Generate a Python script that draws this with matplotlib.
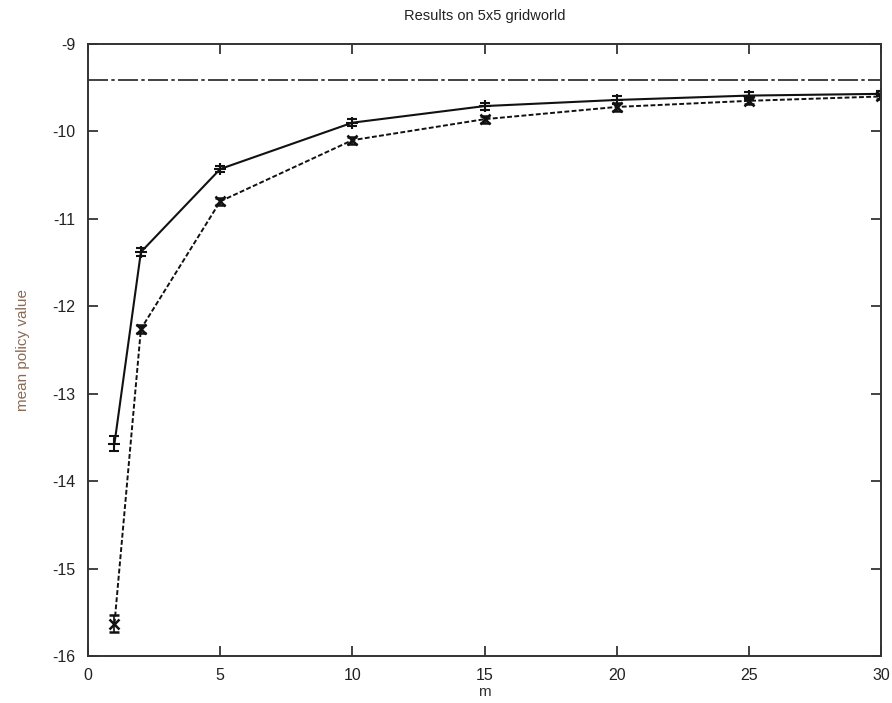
import matplotlib
matplotlib.use("Agg")
import matplotlib.pyplot as plt

m = [1, 2, 5, 10, 15, 20, 25, 30]
solid_vals = [-13.57, -11.38, -10.43, -9.90, -9.71, -9.64, -9.59, -9.57]
solid_err = [0.09, 0.05, 0.03, 0.04, 0.04, 0.05, 0.04, 0.03]
dashed_vals = [-15.63, -12.26, -10.80, -10.10, -9.86, -9.72, -9.65, -9.60]
dashed_err = [0.10, 0.05, 0.04, 0.04, 0.04, 0.05, 0.04, 0.03]
baseline = -9.41

x_ticks = [0, 5, 10, 15, 20, 25, 30]
y_ticks = [-16, -15, -14, -13, -12, -11, -10, -9]

plt.rcParams['font.family'] = ['Liberation Sans', 'DejaVu Sans']
plt.rcParams['axes.unicode_minus'] = False

fig = plt.figure(figsize=(8.92, 7.03), dpi=100)
ax = fig.add_axes([0.0987, 0.0669, 0.889, 0.8705])

ax.axhline(baseline, color='#222222', lw=1.2, linestyle=(0, (12, 2, 2, 2)))
ax.errorbar(m, solid_vals, yerr=solid_err, color='#111111', lw=1.5, marker='+',
            markersize=8, mew=1.5, capsize=3.5, elinewidth=1.2, capthick=1.2)
ax.errorbar(m, dashed_vals, yerr=dashed_err, color='#111111', lw=1.4, linestyle=(0, (2.5, 1.2)),
            marker='x', markersize=7, mew=1.8, capsize=3.5, elinewidth=1.2, capthick=1.2)

ax.set_xlim(0, 30)
ax.set_ylim(-16, -9)
ax.set_xticks(x_ticks)
ax.set_yticks(y_ticks)
ax.tick_params(direction='in', length=7, width=1.2, top=True, right=True,
               labelsize=11.5, colors='#222222', pad=9)
for s in ax.spines.values():
    s.set_linewidth(1.4)
    s.set_color('#333333')

ax.set_title('Results on 5x5 gridworld', fontsize=10.5, color='#222222', pad=17)
ax.set_xlabel('m', fontsize=11, color='#333333', labelpad=1)
ax.set_ylabel('mean policy value', fontsize=11, color='#8a6a55', labelpad=16)

fig.savefig('out.png', dpi=100)
